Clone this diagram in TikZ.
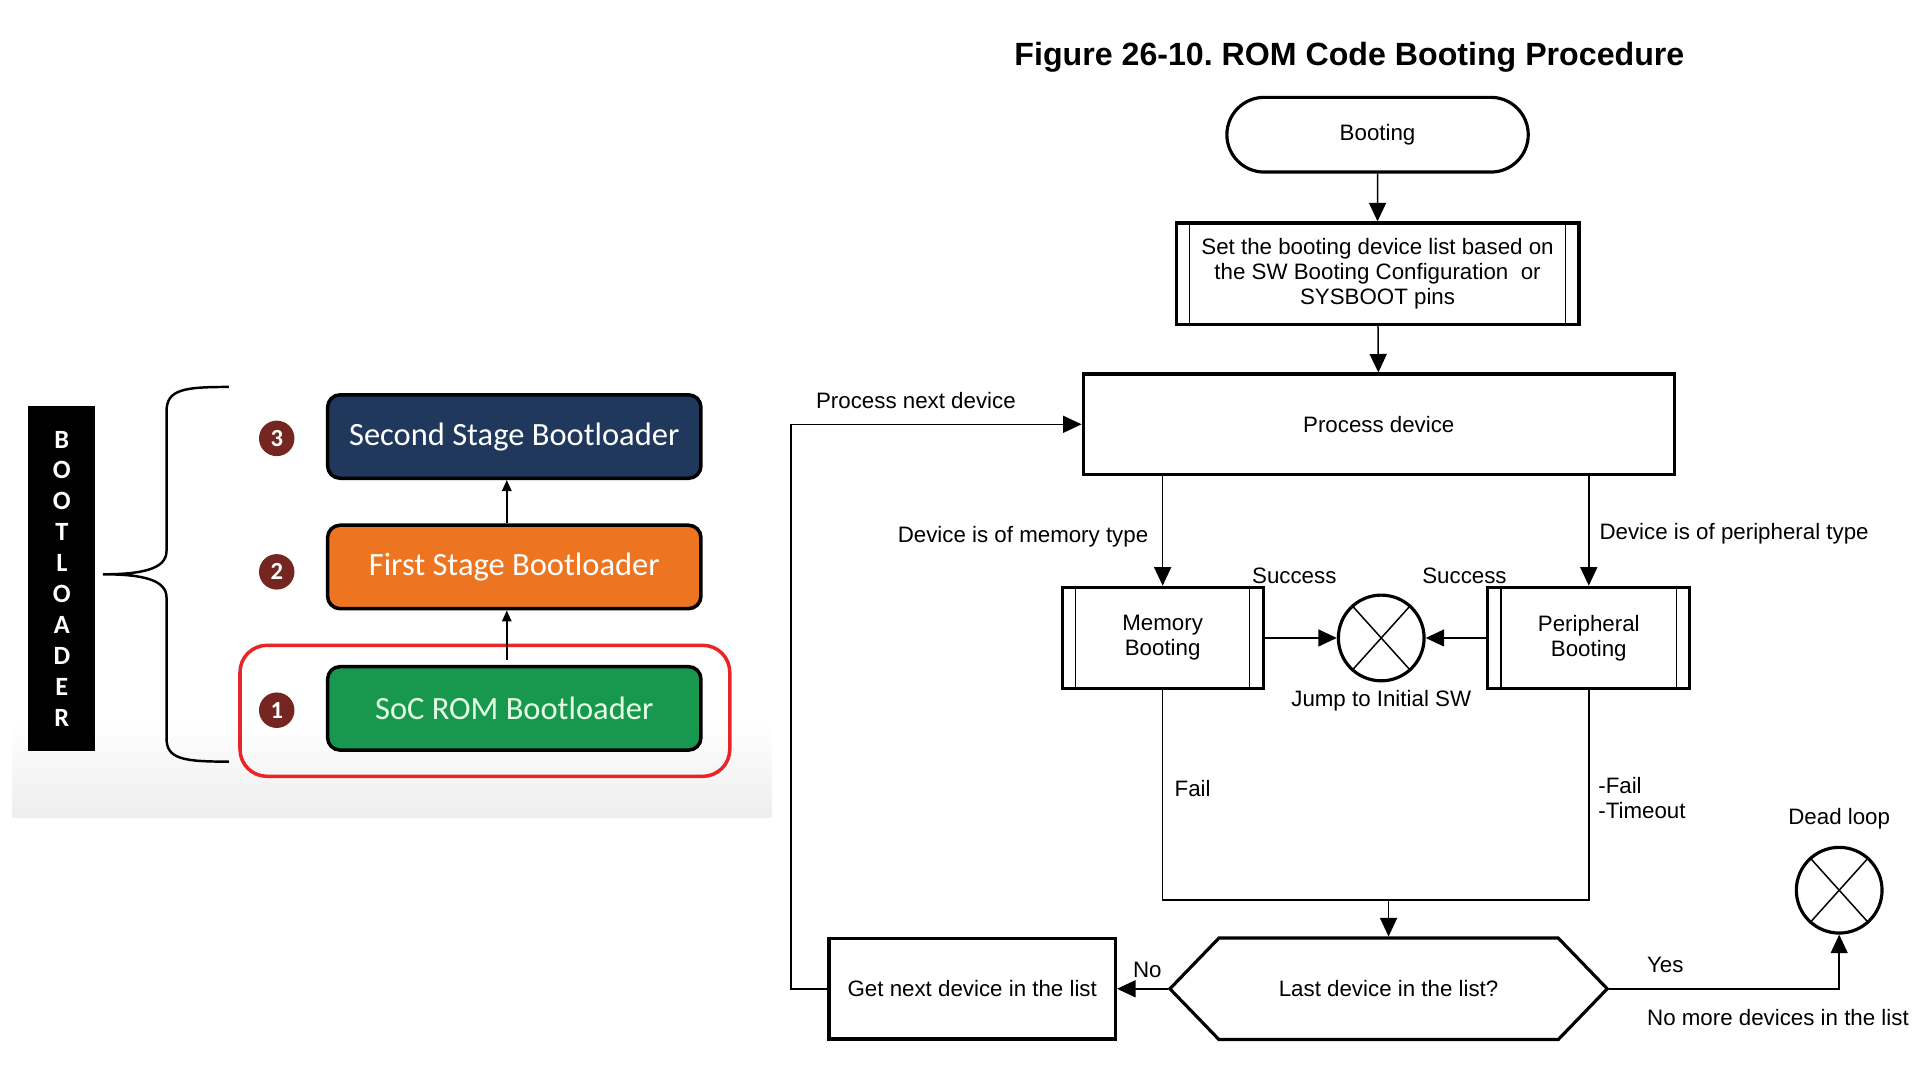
\documentclass[tikz,border=0pt]{standalone}
\usepackage{fontspec}
\setmainfont{Liberation Sans}
\newfontfamily\calibfont{Carlito}
\usetikzlibrary{arrows.meta,shapes.misc,shapes.symbols}

\definecolor{navybox}{RGB}{31,56,92}
\definecolor{orangebox}{RGB}{237,117,33}
\definecolor{greenbox}{RGB}{24,152,78}
\definecolor{stepdot}{RGB}{117,38,33}
\definecolor{romred}{RGB}{232,38,40}

\newcommand{\flowfont}{\fontsize{12.7}{14.3}\selectfont}
\newcommand{\titlefont}{\fontsize{18.3}{22}\selectfont\bfseries}
\newcommand{\stagefont}{\calibfont\fontsize{18.5}{22}\selectfont}
\newcommand{\dotfont}{\calibfont\bfseries\fontsize{14}{16}\selectfont}
\newcommand{\barfont}{\calibfont\bfseries\fontsize{15}{17.6}\selectfont}

\frenchspacing

\begin{document}
\begin{tikzpicture}[x=0.245mm,y=-0.245mm,
	txt/.style={font=\flowfont,inner sep=0pt},
	wire/.style={line width=0.85pt},
	flow/.style={line width=0.85pt,-{Triangle[length=3.7mm,width=3.4mm]}},
	flowbox/.style={draw,line width=1.8pt,font=\flowfont,align=center,inner sep=0pt},
	xcirc/.style={draw,circle,line width=1.8pt,minimum size=17.15mm,inner sep=0pt},
	stage/.style={draw,line width=2pt,rounded corners=2.5mm,minimum width=74.7mm,minimum height=16.7mm,font=\stagefont,text=white},
	numdot/.style={circle,fill=stepdot,minimum size=7.1mm,inner sep=0pt,text=white,font=\dotfont},
	stagearrow/.style={line width=1pt,-{Triangle[length=2.2mm,width=1.9mm]}}]

	\useasboundingbox (0,0) rectangle (1568,882);

	\shade [top color=white,bottom color=black!7] (10,590) rectangle (630,668);

	\node [fill=black,minimum width=13.35mm,minimum height=69.1mm,inner sep=0pt,text=white,align=center,font=\barfont] (bar) at (50.5,472.5) {B\\O\\O\\T\\L\\O\\A\\D\\E\\R};

	\draw [line width=1.4pt] (187,316) .. controls (150,316) and (136,318) .. (136,336) -- (136,450) .. controls (136,465) and (115,469) .. (84,469) .. controls (115,469) and (136,473) .. (136,488) -- (136,603) .. controls (136,620) and (150,622) .. (187,622);

	\draw [romred,line width=2pt,rounded corners=5.4mm] (196,527) rectangle (596,634);

	\node [stage,fill=navybox] (ssb) at (420,356.5) {Second Stage Bootloader};
	\node [stage,fill=orangebox] (fsb) at (420,463) {First Stage Bootloader};
	\node [stage,fill=greenbox,text=green!10!white] (rom) at (420,578.5) {SoC ROM Bootloader};

	\node [numdot] (n3) at (226,358) {3};
	\node [numdot] (n2) at (226,467) {2};
	\node [numdot] (n1) at (226,580) {1};

	\draw [stagearrow] ([xshift=-1.5mm,yshift=1mm]rom.north) -- ([xshift=-1.5mm]fsb.south);
	\draw [stagearrow] ([xshift=-1.5mm]fsb.north) -- ([xshift=-1.5mm]ssb.south);

	\node [font=\titlefont] (title) at (1102,47) {Figure 26-10. ROM Code Booting Procedure};

	\node [flowbox,rounded rectangle,minimum width=60.3mm,minimum height=14.95mm] (booting) at (1125,110) {Booting};
	\node [flowbox,minimum width=80.6mm,minimum height=20.3mm] (setlist) at (1125,223.5) {Set the booting device list based on\\the SW Booting Configuration\ \ or\\SYSBOOT pins};
	\node [flowbox,minimum width=118.3mm,minimum height=20.1mm] (process) at (1126,346.5) {Process device};
	\node [flowbox,minimum width=40.2mm,minimum height=20.3mm] (memory) at (949.5,521) {Memory\\Booting};
	\node [flowbox,minimum width=40.4mm,minimum height=20.3mm] (periph) at (1297.5,521) {Peripheral\\Booting};
	\node [xcirc] (jump) at (1128,521) {};
	\node [flowbox,signal,signal to=west and east,signal pointer angle=92,minimum width=87.5mm,minimum height=20.3mm] (decision) at (1134,807.5) {Last device in the list?};
	\node [flowbox,minimum width=57.3mm,minimum height=20.1mm] (getnext) at (794,807.5) {Get next device in the list};
	\node [xcirc] (deadloop) at (1502,727) {};

	\coordinate (merge) at (1134,735);
	\coordinate (loopx) at (646,346.5);

	\draw [wire] ([xshift=3mm]setlist.north west) -- ([xshift=3mm]setlist.south west);
	\draw [wire] ([xshift=-3mm]setlist.north east) -- ([xshift=-3mm]setlist.south east);
	\draw [wire] ([xshift=3mm]memory.north west) -- ([xshift=3mm]memory.south west);
	\draw [wire] ([xshift=-3mm]memory.north east) -- ([xshift=-3mm]memory.south east);
	\draw [wire] ([xshift=3mm]periph.north west) -- ([xshift=3mm]periph.south west);
	\draw [wire] ([xshift=-3mm]periph.north east) -- ([xshift=-3mm]periph.south east);

	\draw [wire] (jump.48) -- (jump.228);
	\draw [wire] (jump.132) -- (jump.312);
	\draw [wire] (deadloop.48) -- (deadloop.228);
	\draw [wire] (deadloop.132) -- (deadloop.312);

	\draw [flow] (booting) -- (setlist);
	\draw [flow] (setlist) -- (process);
	\draw [flow] (process.south -| memory.north) -- (memory.north);
	\draw [flow] (process.south -| periph.north) -- (periph.north);
	\draw [flow] (memory) -- (jump);
	\draw [flow] (periph) -- (jump);
	\draw [wire] (memory.south) |- (merge) -| (periph.south);
	\draw [flow] (merge) -- (decision.north);
	\draw [flow] (decision.west) -- (getnext.east);
	\draw [flow] (getnext.west) -| (loopx) -- (process.west);
	\draw [flow] (decision.east) -| (deadloop.south);

	\node [txt] (nextlbl) at (748,327) {Process next device};
	\node [txt,anchor=east] (memlbl) at (938,438) {Device is of memory type};
	\node [txt,anchor=west] (perlbl) at (1306,436) {Device is of peripheral type};
	\node [txt] (succl) at (1057,470) {Success};
	\node [txt] (succr) at (1196,470) {Success};
	\node [txt] (jumplbl) at (1128,572) {Jump to Initial SW};
	\node [txt,anchor=west] (faill) at (959,644) {Fail};
	\node [txt,anchor=west,align=left] (failr) at (1305,652) {-Fail\\-Timeout};
	\node [txt] (deadlbl) at (1502,669) {Dead loop};
	\node [txt] (yeslbl) at (1360,788) {Yes};
	\node [txt] (nolbl) at (937,792) {No};
	\node [txt] (nomore) at (1452,831) {No more devices in the list};
\end{tikzpicture}
\end{document}
